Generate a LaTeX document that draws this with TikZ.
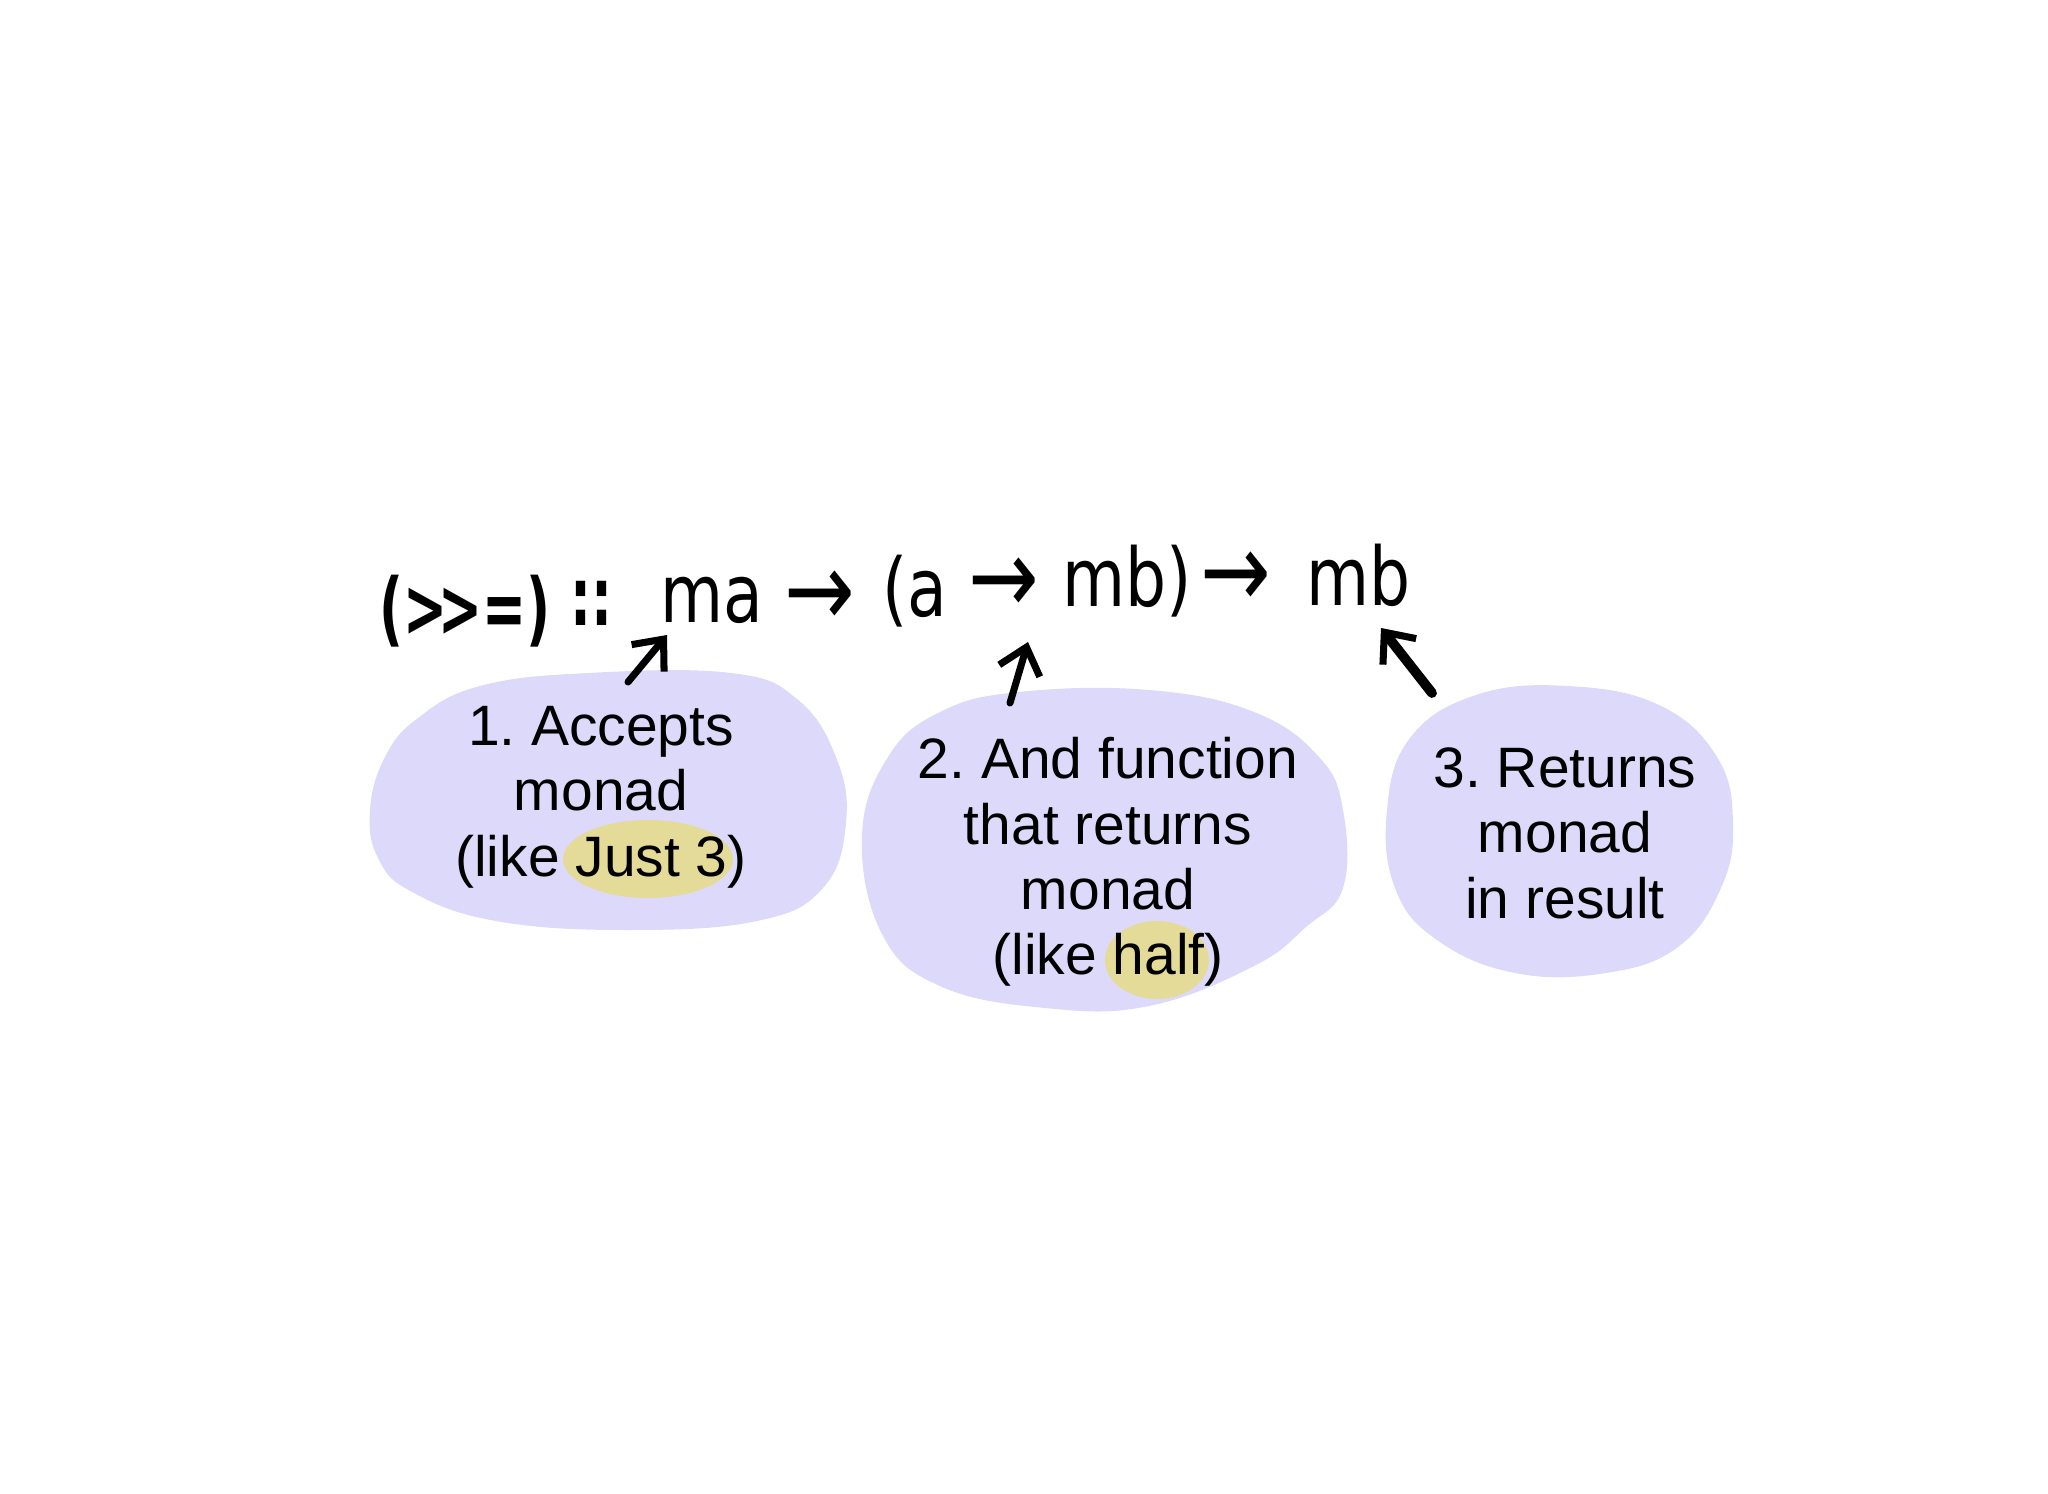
\documentclass[tikz,border=0pt]{standalone}
\usepackage{fontspec}
\setmainfont{Liberation Sans}
\newfontfamily\handfont[FakeStretch=0.8]{DejaVu Sans}
\newfontfamily\opfont[FakeStretch=0.65]{DejaVu Sans Bold}
\usetikzlibrary{arrows.meta}
\frenchspacing

\definecolor{blobfill}{RGB}{221,217,250}
\definecolor{hilite}{RGB}{228,219,152}

\tikzset{
  term/.style={font=\handfont\fontsize{23}{23}\selectfont,inner sep=0pt,anchor=base west},
  opterm/.style={term,font=\opfont\fontsize{23}{23}\selectfont},
  arrterm/.style={term,font=\handfont\fontsize{30}{30}\selectfont},
  note/.style={font=\fontsize{16.2}{18.6}\selectfont,align=center,inner sep=0pt},
  hand/.style={line width=2pt,line cap=round,-{Straight Barb[length=7pt,width=12pt,line width=2pt]}},
}

\begin{document}
\begin{tikzpicture}[x=0.01cm,y=-0.01cm]
\useasboundingbox (0,0) rectangle (2048,1494);

% blobs
\fill[blobfill] plot[smooth cycle,tension=0.7] coordinates {(418,718) (480,686) (588,673) (731,673) (797,699) (836,757) (846,823) (823,888) (757,921) (627,930) (496,921) (412,892) (378,858) (370,810) (385,757)};
\fill[blobfill] plot[smooth cycle,tension=0.7] coordinates {(862,836) (888,757) (940,712) (1019,692) (1149,690) (1254,712) (1319,757) (1343,810) (1343,888) (1306,927) (1254,966) (1149,1006) (1045,1008) (940,986) (882,934)};
\fill[blobfill] plot[smooth cycle,tension=0.7] coordinates {(1387,810) (1410,738) (1476,695) (1567,686) (1659,705) (1717,757) (1733,823) (1721,888) (1678,947) (1606,973) (1515,973) (1437,940) (1395,888)};

% highlights
\fill[hilite] (648,859) ellipse [x radius=85,y radius=39];
\fill[hilite] (1157,960) ellipse [x radius=52,y radius=39];

% type signature
\node[opterm] (op) at (379,636) {({>}\kern-0.12em{>}=)};
\node[opterm] (dc) at (570,625) {::};
\foreach \x/\y/\t/\n in {660/622/{ma}/ma, 882/616/{(a}/pa, 1062/606/{mb)}/mbA, 1306/605/{mb}/mbB}
  \node[term] (\n) at (\x,\y) {\t};
\foreach \x/\y/\n in {784/626/arA, 968/613/arB, 1200/607/arC}
  \node[arrterm] (\n) at (\x,\y) {→};

% notes
\node[note] (n1) at (601,797) {1. Accepts\\monad\\(like Just 3)};
\node[note] (n2) at (1108,862) {2. And function\\that returns\\monad\\(like half)};
\node[note] (n3) at (1565,833) {3. Returns\\monad\\in result};

% pointers
\coordinate (t1) at (628,682);  \coordinate (h1) at (667,635);
\coordinate (t2) at (1010,703); \coordinate (h2) at (1028,642);
\coordinate (t3) at (1432,693); \coordinate (h3) at (1381,628);
\draw[hand] (t1) -- (h1);
\draw[hand] (t2) -- (h2);
\draw[hand,line width=2.8pt] (t3) -- (h3);

\end{tikzpicture}
\end{document}
